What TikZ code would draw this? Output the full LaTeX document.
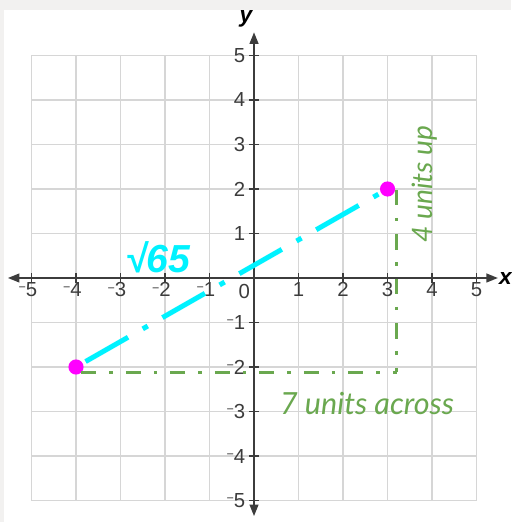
\documentclass[tikz,border=0pt]{standalone}
\usepackage{fontspec}
\setmainfont{Liberation Sans}
\newfontfamily\handfont{Lato}
\usetikzlibrary{arrows.meta}
\definecolor{bggray}{HTML}{F2F1F0}
\definecolor{gridgray}{HTML}{D6D6D6}
\definecolor{axisgray}{HTML}{3C3C3C}
\definecolor{segcyan}{HTML}{00F2FF}
\definecolor{ptmagenta}{HTML}{FF00FF}
\definecolor{legreen}{HTML}{6AA84F}
\newcommand\smminus{\raisebox{0.45ex}{\fontsize{8}{8}\selectfont −}}

\begin{document}
\begin{tikzpicture}[
  axis/.style={draw=axisgray,line width=1pt,
    {Triangle[length=2.6mm,width=2mm]}-{Triangle[length=2.6mm,width=2mm]}},
  ticklbl/.style={inner sep=0pt,text=axisgray,font=\fontsize{13}{15}\selectfont},
  axislbl/.style={inner sep=0pt,text=black,font=\bfseries\itshape\fontsize{14.5}{17}\selectfont},
  dot/.style={circle,fill=ptmagenta,minimum size=3.4mm,inner sep=0pt},
  distline/.style={segcyan,line width=3.2pt,
    dash pattern=on 1.1cm off 0.38cm on 0.13cm off 0.38cm,dash phase=1.92cm},
  legline/.style={legreen,line width=1.9pt,
    dash pattern=on 0.34cm off 0.29cm on 0.08cm off 0.29cm},
  handlbl/.style={text=legreen,font=\handfont\itshape\fontsize{18}{21}\selectfont}
]
% page and panel
\fill[bggray] (-5.708,-5.483) rectangle (5.775,6.247);
\fill[white] (-5.618,-5.483) rectangle (5.775,6.022);
\useasboundingbox (-5.708,-5.483) rectangle (5.775,6.247);

% grid and axes
\draw[gridgray,line width=1.2pt] (-5,-5) grid (5,5);
\coordinate (xl) at (-5.53,0);
\coordinate (xr) at (5.48,0);
\coordinate (yb) at (0,-5.35);
\coordinate (yt) at (0,5.52);
\draw[axis] (xl) -- (xr);
\draw[axis] (yb) -- (yt);
\node[axislbl] (xlab) at (5.65,-0.02) {x};
\node[axislbl] (ylab) at (-0.18,5.83) {y};

\foreach \i in {-5,...,-1,1,2,...,5} {
  \draw[axisgray,line width=0.8pt] (\i,-0.11) -- (\i,0.11);
  \draw[axisgray,line width=0.8pt] (-0.11,\i) -- (0.11,\i);
}
\foreach \i in {1,...,5} {
  \node[ticklbl,anchor=north] (xp\i) at (\i,-0.1) {\i};
  \node[ticklbl,anchor=north] (xn\i) at (-\i,-0.1) {\llap{\smminus}\i};
  \node[ticklbl,anchor=east] (yp\i) at (-0.19,\i) {\i};
  \node[ticklbl,anchor=east] (yn\i) at (-0.19,-\i) {\smminus\i};
}
\node[ticklbl] (orig) at (-0.22,-0.3) {0};

% points and distance
\node[dot] (A) at (-4,-2) {};
\node[dot] (B) at (3,2) {};
\draw[distline] (A) -- (B);
\node[text=segcyan,font=\bfseries\itshape\fontsize{25}{27}\selectfont] (root) at (-2.16,0.47) {√65};

% legs
\coordinate (h0) at (-3.88,-2.12);
\coordinate (cnr) at (3.21,-2.12);
\coordinate (v0) at (3.21,1.98);
\draw[legline] (h0) -- (cnr);
\draw[legline] (v0) -- (cnr);
\node[handlbl,font=\handfont\itshape\fontsize{19.5}{22}\selectfont] (across) at (2.54,-2.81) {7 units across};
\node[handlbl,rotate=90] (up) at (3.84,2.11) {4 units up};
\end{tikzpicture}
\end{document}
